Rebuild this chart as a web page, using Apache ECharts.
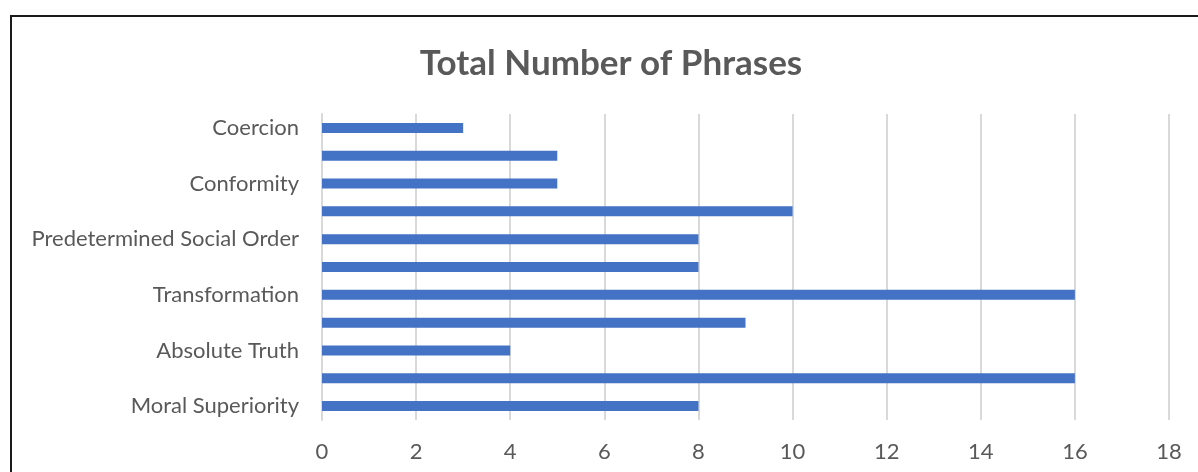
<!DOCTYPE html>
<html>
<head>
<meta charset="utf-8">
<script src="https://cdn.jsdelivr.net/npm/echarts@6/dist/echarts.min.js"></script>
<style>
  html, body { margin: 0; padding: 0; background: #fff; }
  #chart { width: 1198px; height: 472px; }
</style>
</head>
<body>
<div id="chart"></div>
<script>
// Categories, top to bottom; empty names are rows whose labels are skipped on the axis
const categories = ['Coercion', '', 'Conformity', '', 'Predetermined Social Order', '', 'Transformation', '', 'Absolute Truth', '', 'Moral Superiority'];
const phraseCounts = [3, 5, 5, 10, 8, 8, 16, 9, 4, 16, 8];
const xTicks = { min: 0, max: 18, interval: 2 };

const FONT = 'Lato, "Liberation Sans", sans-serif';
const chart = echarts.init(document.getElementById('chart'), null, { renderer: 'canvas' });

chart.setOption({
  animation: false,
  backgroundColor: '#ffffff',
  title: {
    text: 'Total Number of Phrases',
    left: 606,
    top: 41,
    textAlign: 'center',
    textStyle: { color: '#595959', fontFamily: FONT, fontWeight: 'bold', fontSize: 35 }
  },
  graphic: [{
    type: 'rect',
    shape: { x: 11, y: 16, width: 1300, height: 600 },
    style: { fill: 'none', stroke: '#1a1a1a', lineWidth: 2 },
    silent: true
  }],
  grid: { left: 322, right: 29, top: 114, bottom: 52, containLabel: false },
  xAxis: {
    type: 'value',
    min: xTicks.min,
    max: xTicks.max,
    interval: xTicks.interval,
    axisLine: { show: false },
    axisTick: { show: false },
    axisLabel: { color: '#595959', fontFamily: FONT, fontSize: 22, margin: 21 },
    splitLine: { lineStyle: { color: '#d9d9d9', width: 2 } }
  },
  yAxis: {
    type: 'category',
    inverse: true,
    data: categories,
    axisLine: { show: true, lineStyle: { color: '#d9d9d9', width: 2 } },
    axisTick: { show: false },
    axisLabel: { interval: 0, color: '#595959', fontFamily: FONT, fontSize: 22, margin: 23 }
  },
  series: [{
    type: 'bar',
    data: phraseCounts,
    barWidth: 10,
    itemStyle: { color: '#4472c4' }
  }]
});
</script>
</body>
</html>
